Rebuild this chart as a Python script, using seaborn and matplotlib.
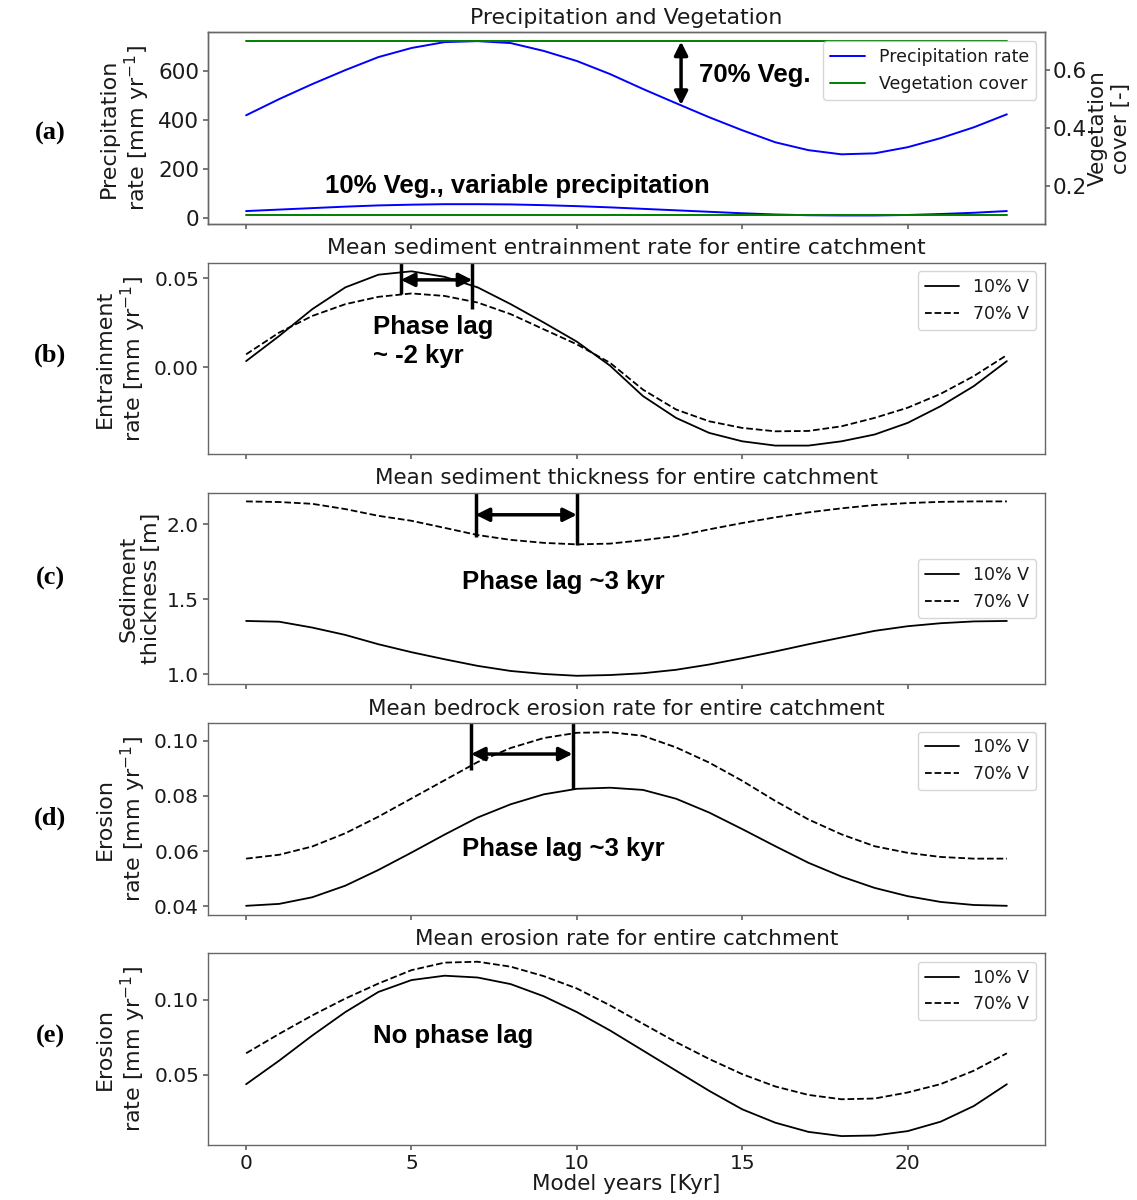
import numpy as np
import pandas as pd
import matplotlib
matplotlib.use("Agg")
import matplotlib.pyplot as plt
import seaborn as sns

# Dados (anos do modelo em kyr)
anos = list(range(24))

precip_70 = [420, 486, 547, 604, 657, 694, 718, 722, 714, 682, 641, 588,
             527, 469, 412, 359, 310, 278, 261, 265, 290, 327, 371, 424]
precip_10 = [30, 36, 42, 48, 53, 56, 58, 58, 57, 54, 50, 45,
             39, 33, 27, 21, 16, 13, 12, 12, 14, 18, 23, 30]
veg_70 = [0.7] * 24
veg_10 = [0.1] * 24

entr_10 = [0.0035, 0.0176, 0.0326, 0.0448, 0.0519, 0.0538, 0.0507, 0.0448,
           0.0354, 0.0251, 0.0144, 0.0010, -0.0161, -0.0283, -0.0367, -0.0414,
           -0.0438, -0.0438, -0.0414, -0.0376, -0.0311, -0.0217, -0.0105, 0.0035]
entr_70 = [0.0073, 0.0195, 0.0288, 0.0354, 0.0395, 0.0414, 0.0400, 0.0363,
           0.0298, 0.0213, 0.0129, 0.0026, -0.0125, -0.0236, -0.0302, -0.0339,
           -0.0358, -0.0356, -0.0330, -0.0283, -0.0226, -0.0148, -0.0049, 0.0069]

sed_10 = [1.355, 1.350, 1.311, 1.262, 1.200, 1.147, 1.100, 1.056, 1.022, 1.002,
          0.990, 0.995, 1.007, 1.030, 1.065, 1.107, 1.152, 1.200, 1.245, 1.289,
          1.320, 1.340, 1.352, 1.355]
sed_70 = [2.151, 2.147, 2.135, 2.100, 2.055, 2.022, 1.975, 1.927, 1.895, 1.875,
          1.865, 1.870, 1.893, 1.920, 1.965, 2.007, 2.045, 2.078, 2.105, 2.127,
          2.140, 2.148, 2.151, 2.151]

bed_10 = [0.0402, 0.0409, 0.0433, 0.0475, 0.0532, 0.0595, 0.0660, 0.0722,
          0.0770, 0.0806, 0.0826, 0.0830, 0.0822, 0.0790, 0.0740, 0.0680,
          0.0618, 0.0558, 0.0508, 0.0467, 0.0437, 0.0416, 0.0405, 0.0402]
bed_70 = [0.0573, 0.0587, 0.0617, 0.0665, 0.0725, 0.0791, 0.0857, 0.0923,
          0.0974, 0.1010, 0.1029, 0.1031, 0.1018, 0.0976, 0.0921, 0.0855,
          0.0782, 0.0715, 0.0661, 0.0618, 0.0594, 0.0579, 0.0573, 0.0573]

eros_10 = [0.0437, 0.0594, 0.0761, 0.0917, 0.1051, 0.1130, 0.1159, 0.1147,
           0.1103, 0.1022, 0.0917, 0.0795, 0.0661, 0.0527, 0.0393, 0.0270,
           0.0181, 0.0120, 0.0092, 0.0096, 0.0125, 0.0188, 0.0292, 0.0437]
eros_70 = [0.0643, 0.0772, 0.0895, 0.1007, 0.1107, 0.1196, 0.1246, 0.1252,
           0.1219, 0.1156, 0.1074, 0.0962, 0.0839, 0.0717, 0.0605, 0.0504,
           0.0422, 0.0366, 0.0337, 0.0342, 0.0382, 0.0438, 0.0527, 0.0643]

sns.set_theme(style="ticks")
plt.rcParams['font.family'] = ['DejaVu Sans']
plt.rcParams['axes.edgecolor'] = '0.4'
plt.rcParams['axes.linewidth'] = 1.0
plt.rcParams['xtick.color'] = '0.4'
plt.rcParams['ytick.color'] = '0.4'
plt.rcParams['xtick.major.size'] = 3.5
plt.rcParams['ytick.major.size'] = 3.5
plt.rcParams['xtick.major.pad'] = 3
plt.rcParams['ytick.major.pad'] = 3
plt.rcParams['xtick.labelcolor'] = '0.1'
plt.rcParams['ytick.labelcolor'] = '0.1'
plt.rcParams['text.color'] = '0.1'
plt.rcParams['axes.labelcolor'] = '0.1'
plt.rcParams['legend.fontsize'] = 12.5

fonte_bold = dict(family='Liberation Sans', weight='bold', size=18.5, color='black')
seta = dict(arrowstyle='<|-|>', lw=2.5, color='black', mutation_scale=20, shrinkA=0, shrinkB=0)

fig = plt.figure(figsize=(11.37, 12), dpi=100)
gs = fig.add_gridspec(5, 1, left=0.183, right=0.919, top=0.973, bottom=0.046, hspace=0.2)
axs = [fig.add_subplot(gs[0])]
for i in range(1, 5):
    axs.append(fig.add_subplot(gs[i], sharex=axs[0]))

# (a) Precipitacao e vegetacao
ax = axs[0]
ax2 = ax.twinx()
sns.lineplot(x=anos, y=precip_70, ax=ax, color='blue', lw=1.4, label='Precipitation rate')
sns.lineplot(x=anos, y=precip_10, ax=ax, color='blue', lw=1.4)
sns.lineplot(x=anos, y=veg_70, ax=ax2, color='green', lw=1.4, label='Vegetation cover')
sns.lineplot(x=anos, y=veg_10, ax=ax2, color='green', lw=1.4)
ax.get_legend().remove()
h1, l1 = ax.get_legend_handles_labels()
h2, l2 = ax2.get_legend_handles_labels()
ax2.legend(h1 + h2, l1 + l2, loc='upper right', fontsize=12.5)
ax.set_title('Precipitation and Vegetation', fontsize=15.8)
ax.set_ylabel('Precipitation\nrate [mm yr$^{-1}$]', fontsize=16)
ax2.set_ylabel('Vegetation\ncover [-]', fontsize=15.5, labelpad=1)
ax.set_yticks([0, 200, 400, 600])
ax2.set_yticks([0.2, 0.4, 0.6])
ax.tick_params(axis='y', labelsize=15.5)
ax2.tick_params(axis='y', labelsize=15.5, pad=2)
ax.annotate('', xy=(13.15, 720), xytext=(13.15, 462), arrowprops=seta)
ax.text(13.7, 584, '70% Veg.', va='center', ha='left', **fonte_bold)
ax.text(2.4, 131, '10% Veg., variable precipitation', va='center', ha='left', **fonte_bold)

# (b) Entrainment
ax = axs[1]
sns.lineplot(x=anos, y=entr_10, ax=ax, color='black', lw=1.3, label='10% V')
sns.lineplot(x=anos, y=entr_70, ax=ax, color='black', lw=1.3, linestyle='--', label='70% V')
ax.set_title('Mean sediment entrainment rate for entire catchment', fontsize=15.8)
ax.set_ylabel('Entrainment\nrate [mm yr$^{-1}$]', fontsize=16)
ax.set_yticks([0.0, 0.05])
ax.set_ylim(-0.0487, 0.0587)
ax.vlines([4.68], 0.041, 0.0587, color='black', lw=2.5)
ax.vlines([6.84], 0.0326, 0.0587, color='black', lw=2.5)
ax.annotate('', xy=(4.68, 0.049), xytext=(6.84, 0.049), arrowprops=seta)
ax.text(3.85, 0.0295, 'Phase lag\n~ -2 kyr', va='top', ha='left', linespacing=1.3, **fonte_bold)
ax.legend(loc='upper right')

# (c) Espessura do sedimento
ax = axs[2]
sns.lineplot(x=anos, y=sed_10, ax=ax, color='black', lw=1.3, label='10% V')
sns.lineplot(x=anos, y=sed_70, ax=ax, color='black', lw=1.3, linestyle='--', label='70% V')
ax.set_title('Mean sediment thickness for entire catchment', fontsize=15.5)
ax.set_ylabel('Sediment\nthickness [m]', fontsize=16)
ax.set_yticks([1.0, 1.5, 2.0])
ax.set_ylim(0.932, 2.209)
ax.vlines([6.94], 1.911, 2.209, color='black', lw=2.5)
ax.vlines([10.0], 1.86, 2.209, color='black', lw=2.5)
ax.annotate('', xy=(6.94, 2.062), xytext=(10.0, 2.062), arrowprops=seta)
ax.text(9.6, 1.613, 'Phase lag ~3 kyr', va='center', ha='center', **fonte_bold)
ax.legend(loc='center right')

# (d) Erosao do leito rochoso
ax = axs[3]
sns.lineplot(x=anos, y=bed_10, ax=ax, color='black', lw=1.3, label='10% V')
sns.lineplot(x=anos, y=bed_70, ax=ax, color='black', lw=1.3, linestyle='--', label='70% V')
ax.set_title('Mean bedrock erosion rate for entire catchment', fontsize=15.5)
ax.set_ylabel('Erosion\nrate [mm yr$^{-1}$]', fontsize=16)
ax.set_yticks([0.04, 0.06, 0.08, 0.10])
ax.set_ylim(0.0370, 0.1065)
ax.vlines([6.8], 0.0895, 0.1065, color='black', lw=2.5)
ax.vlines([9.87], 0.0825, 0.1065, color='black', lw=2.5)
ax.annotate('', xy=(6.8, 0.0952), xytext=(9.87, 0.0952), arrowprops=seta)
ax.text(9.6, 0.0608, 'Phase lag ~3 kyr', va='center', ha='center', **fonte_bold)
ax.legend(loc='upper right')

# (e) Erosao total
ax = axs[4]
sns.lineplot(x=anos, y=eros_10, ax=ax, color='black', lw=1.3, label='10% V')
sns.lineplot(x=anos, y=eros_70, ax=ax, color='black', lw=1.3, linestyle='--', label='70% V')
ax.set_title('Mean erosion rate for entire catchment', fontsize=15.5)
ax.set_ylabel('Erosion\nrate [mm yr$^{-1}$]', fontsize=16)
ax.set_yticks([0.05, 0.10])
ax.text(6.27, 0.076, 'No phase lag', va='center', ha='center', **fonte_bold)
ax.legend(loc='upper right')
ax.set_xlabel('Model years [Kyr]', fontsize=15.5, labelpad=1)

for ax in axs:
    ax.set_xticks([0, 5, 10, 15, 20])
    ax.tick_params(axis='x', labelsize=14.5)
for ax in axs[1:]:
    ax.tick_params(axis='y', labelsize=14.5)
for ax in axs[:-1]:
    ax.tick_params(labelbottom=False)

# Rotulos dos paineis
rotulos = ['(a)', '(b)', '(c)', '(d)', '(e)']
ys = [0.889, 0.704, 0.518, 0.318, 0.136]
for r, y in zip(rotulos, ys):
    fig.text(0.044, y, r, ha='center', va='center', family='Liberation Serif',
             weight='bold', size=19, color='black')

fig.savefig('out.png', dpi=100)
